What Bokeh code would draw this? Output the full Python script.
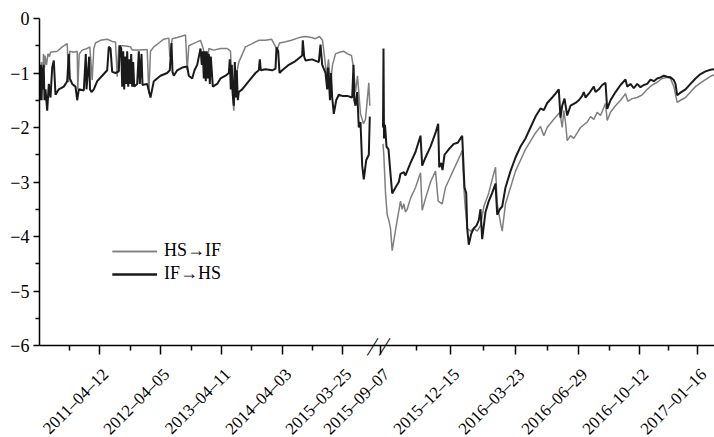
from bokeh.plotting import figure
from bokeh.models import Range1d, FixedTicker, Legend, LegendItem, Label
from bokeh.embed import file_html
from bokeh.resources import INLINE

# ---------------- data ----------------
# x = observation index along the (broken) time axis, y = value
# left segment: 2011 .. 2015-06 ; right segment: 2015-09 .. 2017-02
if_hs_left = [
    (0, -1.0), (0.7, -1.5), (1.4, -0.85), (2.1, -1.5), (2.8, -0.9), (3.5, -1.3), (4.2, -0.85),
    (5, -1.5), (6, -1.3), (7.7, -1.69), (9.3, -1.2), (11, -1.45), (12.7, -0.9), (14.3, -0.77),
    (16, -1.4), (19.3, -1.3), (24.3, -1.25), (27.7, -1.15), (29.3, -0.65), (30.3, -1.1),
    (32.7, -1.2), (36, -1.25), (37.7, -1.5), (39.3, -1.3), (44.3, -1.32), (46.3, -0.65),
    (47, -1.3), (49.7, -0.7), (50.5, -1.3), (52, -1.35), (54.3, -1.3), (57.7, -1.15),
    (62.7, -1.05), (67.7, -0.95), (69.3, -0.52), (71, -0.55), (72.7, -0.98), (76, -1.0),
    (79.3, -0.97), (80.3, -0.5), (81.7, -0.55), (82.7, -1.25), (83.7, -0.6), (84.7, -1.3),
    (85.7, -0.7), (86.7, -1.2), (87.7, -0.6), (88.7, -1.25), (89.7, -0.75), (90.7, -1.2),
    (91.7, -0.65), (92.7, -1.25), (93.7, -0.8), (94.7, -1.25), (97.7, -1.2), (99.3, -0.6),
    (100.3, -1.2), (102, -0.65), (103, -1.22), (107.7, -1.2), (111, -1.45), (114.3, -1.15),
    (121, -1.05), (127.7, -1.0), (130.3, -0.95), (132, -0.45), (133, -0.98), (134.3, -1.05),
    (137.7, -0.95), (142.7, -0.9), (147.7, -0.88), (149.3, -1.05), (152.7, -1.1),
    (155, -0.95), (157.7, -0.85), (161, -0.55), (162.3, -0.85), (163.3, -0.6), (164.3, -1.1),
    (165.3, -0.6), (166.3, -1.15), (167.3, -0.6), (168.3, -1.1), (169.3, -0.65),
    (170.3, -1.2), (171.3, -0.7), (173.3, -1.25), (177.7, -1.2), (181, -1.1), (186, -1.05),
    (189.3, -1.0), (190.3, -0.75), (191.3, -1.3), (192.3, -0.85), (193.3, -1.4),
    (194.3, -1.6), (195.3, -0.8), (196.3, -1.45), (197.3, -0.95), (198.3, -1.5),
    (199.3, -1.35), (202.7, -1.3), (209.3, -1.15), (216, -1.0), (219.3, -0.95),
    (220.3, -0.75), (221.3, -0.95), (226, -0.93), (232.7, -0.95), (236, -0.92), (237, -0.53),
    (238.7, -0.6), (240, -1.0), (242.7, -0.95), (249.3, -0.85), (256, -0.78), (262.7, -0.68),
    (263.3, -0.4), (264.7, -0.7), (266, -0.77), (272.7, -0.75), (279.3, -0.8), (281, -0.48),
    (282.7, -0.85), (286, -1.0), (287.7, -1.3), (288.5, -0.9), (289.3, -1.1), (290.5, -1.5),
    (291.5, -1.0), (292.7, -1.45), (294.3, -1.75), (296.7, -1.5), (299.3, -1.4),
    (302.7, -1.42), (307.7, -1.42), (312.7, -1.45), (314, -0.85), (314.8, -1.5), (316, -1.6),
    (317.7, -1.35), (319.3, -2.0), (321, -1.9), (322.7, -2.7), (324.3, -2.95), (326.7, -2.6),
    (329.3, -2.5), (330.3, -1.8),
]
hs_if_left = [
    (0, -1.0), (1, -1.4), (2, -0.8), (3, -1.3), (4, -0.65), (5, -0.9), (5.5, -0.68),
    (7, -0.85), (8.5, -0.65), (10, -0.7), (11, -0.62), (17.7, -0.6), (22.7, -0.52),
    (27.7, -0.46), (29.3, -1.17), (30.3, -0.6), (34.3, -0.62), (37.7, -0.6), (38.3, -1.3),
    (39.7, -0.65), (42.7, -0.58), (47.7, -0.55), (50.3, -0.52), (52.7, -1.13), (54.3, -0.55),
    (56, -0.45), (61, -0.4), (67.7, -0.38), (72.7, -0.42), (76, -0.43), (77.7, -1.07),
    (79.3, -0.5), (84.3, -0.5), (91, -0.52), (92.7, -0.58), (101, -0.58), (107.7, -0.57),
    (109.3, -1.38), (111, -0.6), (114.3, -0.52), (119.3, -0.45), (124.3, -0.38),
    (129.3, -0.36), (130.3, -0.7), (132.7, -0.37), (137.7, -0.35), (142.7, -0.32),
    (146, -0.3), (147.7, -0.95), (149.3, -0.5), (152.7, -0.47), (157.7, -0.43), (161, -0.4),
    (163.7, -0.55), (167.7, -1.0), (169.3, -0.55), (174.3, -0.58), (181, -0.55),
    (187.7, -0.55), (191, -0.6), (192.7, -1.3), (194.3, -1.69), (196, -1.1), (199.3, -0.8),
    (206, -0.52), (212.7, -0.46), (219.3, -0.4), (226, -0.4), (232, -0.38), (237.7, -0.57),
    (240, -0.45), (245, -0.43), (252, -0.4), (258, -0.36), (262, -0.34), (266, -0.33),
    (272, -0.35), (276, -0.37), (280, -0.33), (283, -0.4), (285, -0.7), (287, -1.05),
    (289, -0.75), (291, -1.2), (293, -0.85), (296, -0.65), (300, -0.62), (304, -0.6),
    (308, -0.65), (312, -0.68), (314, -0.9), (316, -1.35), (318, -1.05), (321, -1.75),
    (324, -1.93), (326, -1.85), (329.3, -1.18), (330.3, -1.6),
]
if_hs_right = [
    (343.5, -2.0), (344, -0.55), (344.5, -2.2), (345.5, -1.95), (347, -2.35), (349, -2.4),
    (351, -2.85), (352.7, -3.21), (356, -3.1), (359.3, -3.0), (361, -2.85), (364.3, -2.82),
    (366, -2.88), (367.7, -2.8), (371, -2.65), (376, -2.45), (381, -2.15), (382.7, -2.7),
    (386, -2.55), (391, -2.35), (396, -2.1), (398.7, -1.93), (399.7, -2.73), (401.7, -2.65),
    (403, -2.78), (405, -2.5), (409.3, -2.4), (414.3, -2.3), (418.3, -2.28), (421, -2.2),
    (422.7, -2.15), (425, -3.1), (426.7, -3.2), (427.7, -3.85), (429.3, -4.15),
    (431.7, -3.95), (434.3, -3.85), (437, -3.8), (439.3, -3.7), (441, -3.5), (442.7, -4.05),
    (446, -3.55), (449.3, -3.35), (452.7, -3.2), (456, -3.03), (457.7, -3.6), (460.3, -3.5),
    (462.7, -3.45), (466, -3.1), (471, -2.8), (476, -2.55), (481, -2.35), (486, -2.2),
    (491, -2.0), (496, -1.8), (501, -1.65), (504.3, -1.68), (507.7, -1.55), (512.7, -1.45),
    (516, -1.38), (519.3, -1.3), (521, -1.82), (522.7, -1.6), (525, -1.47), (527.7, -1.78),
    (531, -1.6), (536, -1.55), (539.3, -1.5), (542.7, -1.42), (544.3, -1.35), (546, -1.45),
    (549.3, -1.38), (554.3, -1.25), (556, -1.35), (559.3, -1.3), (562.7, -1.22),
    (566, -1.18), (567.7, -1.66), (571, -1.5), (576, -1.35), (581, -1.22), (586, -1.12),
    (587.7, -1.25), (591, -1.2), (594.3, -1.28), (597.7, -1.2), (601, -1.26), (604.3, -1.22),
    (607.7, -1.2), (611, -1.12), (614.3, -1.15), (617.7, -1.1), (621, -1.08), (624.3, -1.05),
    (627.7, -1.07), (631, -1.08), (634.3, -1.13), (636, -1.2), (637.7, -1.41), (641, -1.36),
    (646, -1.3), (651, -1.2), (656, -1.1), (661, -1.02), (666, -0.97), (671, -0.94),
    (675, -0.93),
]
hs_if_right = [
    (343.5, -2.3), (344.3, -2.5), (346, -3.2), (347.7, -3.6), (349.3, -3.7), (351, -3.85),
    (352.7, -4.26), (355, -4.0), (357.7, -3.7), (361, -3.35), (362.7, -3.5), (364.3, -3.4),
    (366, -3.55), (367.7, -3.5), (371, -3.3), (376, -3.1), (381, -2.83), (382.7, -3.52),
    (386, -3.3), (391, -3.0), (396, -2.8), (398.7, -3.35), (402.7, -3.4), (406, -3.1),
    (411, -2.9), (416, -2.7), (421, -2.5), (422.7, -2.42), (425, -3.3), (427.7, -3.85),
    (431, -3.9), (434.3, -3.85), (437.7, -3.9), (441, -3.8), (444.3, -3.45), (449.3, -3.2),
    (452.7, -2.95), (456, -2.73), (457.7, -3.4), (461, -3.75), (462.7, -3.9), (466, -3.4),
    (471, -3.1), (476, -2.8), (481, -2.6), (486, -2.4), (491, -2.25), (496, -2.1),
    (501, -1.98), (504.3, -2.15), (507.7, -2.0), (514.3, -1.85), (520.3, -1.72),
    (522.7, -2.0), (524.3, -1.69), (526, -1.9), (527.7, -2.24), (531, -2.15), (534.3, -2.2),
    (537.7, -2.1), (541, -2.0), (544.3, -1.95), (547.7, -1.9), (551, -1.8), (554.3, -1.85),
    (557.7, -1.72), (561, -1.78), (566, -1.56), (567.7, -1.87), (571, -1.72), (576, -1.6),
    (581, -1.5), (586, -1.38), (588.3, -1.52), (592.7, -1.47), (597.7, -1.45),
    (602.7, -1.4), (607.7, -1.3), (612.7, -1.22), (617.7, -1.17), (622.7, -1.1),
    (627.7, -1.08), (631, -1.1), (634.3, -1.25), (637.7, -1.54), (641, -1.5), (646, -1.45),
    (651, -1.35), (656, -1.25), (661, -1.18), (666, -1.12), (671, -1.06), (675, -1.03),
]

x_tick_pos = [60, 121, 182, 243, 303, 341, 411, 476, 539, 600, 658]
x_tick_labels = ["2011–04–12", "2012–04–05", "2013–04–11", "2014–04–03", "2015–03–25",
                 "2015–09–07", "2015–12–15", "2016–03–23", "2016–06–29", "2016–10–12",
                 "2017–01–16"]
x_minor_pos = [30, 91, 152, 212, 273, 377, 444, 508, 570, 629]
y_ticks = [0, -1, -2, -3, -4, -5, -6]
y_minor = [-0.5, -1.5, -2.5, -3.5, -4.5, -5.5]
break_pos = [331, 343]
series_labels = ["HS→IF", "IF→HS"]
Y_BOTTOM = -6          # where the x axis sits

FONT = "Liberation Serif"
FSIZE = "18px"
DATE_FSIZE = "17px"
GRAY = "#7f7f7f"
BLACK = "#1a1a1a"

# The frame runs to the bottom of the figure so that the rotated dates and the
# break marks below the x axis (which is drawn at y = -6) are not clipped.
W, H, TOP, LEFT, AXIS_PX = 714, 437, 18, 39, 345
y_low = Y_BOTTOM * (H - TOP) / (AXIS_PX - TOP)

p = figure(width=W, height=H, output_backend="svg", toolbar_location=None,
           x_range=Range1d(0, 675), y_range=Range1d(y_low, 0),
           min_border_left=LEFT, min_border_top=TOP, min_border_right=0, min_border_bottom=0)
p.xgrid.visible = False
p.ygrid.visible = False
p.outline_line_color = None

def xy(pairs):
    return [a for a, b in pairs], [b for a, b in pairs]

g1 = p.line(*xy(hs_if_left), line_color=GRAY, line_width=1.5)
g2 = p.line(*xy(hs_if_right), line_color=GRAY, line_width=1.5)
b1 = p.line(*xy(if_hs_left), line_color=BLACK, line_width=2)
b2 = p.line(*xy(if_hs_right), line_color=BLACK, line_width=2)

legend = Legend(items=[LegendItem(label=series_labels[0], renderers=[g1, g2]),
                       LegendItem(label=series_labels[1], renderers=[b1, b2])],
                location=(73, 61 + H - AXIS_PX), padding=0, margin=0, border_line_color=None,
                background_fill_alpha=0, glyph_width=45, label_standoff=7, spacing=2,
                label_text_font=FONT, label_text_font_size=FSIZE, label_text_color="black")
p.add_layout(legend)

xa = p.xaxis[0]
xa.fixed_location = Y_BOTTOM
xa.ticker = FixedTicker(ticks=x_tick_pos, minor_ticks=x_minor_pos)
xa.major_label_text_color = None   # the dates are drawn below as rotated labels
ya = p.yaxis[0]
ya.bounds = (Y_BOTTOM, 0)
ya.ticker = FixedTicker(ticks=y_ticks, minor_ticks=y_minor)
ya.major_label_overrides = {t: ("0" if t == 0 else "−%d" % abs(t)) for t in y_ticks}
ya.major_label_text_color = "black"

for ax in (xa, ya):
    ax.axis_line_color = "black"
    ax.axis_line_width = 1.5
    ax.major_tick_line_color = "black"
    ax.major_tick_line_width = 1.5
    ax.minor_tick_line_color = "black"
    ax.minor_tick_line_width = 1.5
    ax.major_tick_in = 0
    ax.minor_tick_in = 0
    ax.major_label_text_font = FONT
    ax.major_label_text_font_size = FSIZE
xa.major_tick_out = 9
xa.minor_tick_out = 5
ya.major_tick_out = 6
ya.minor_tick_out = 4
ya.major_label_standoff = 4

# rotated date labels at each major tick
for t, lab in zip(x_tick_pos, x_tick_labels):
    p.add_layout(Label(x=t, y=Y_BOTTOM, text=lab, angle=45, angle_units="deg",
                       x_offset=6, y_offset=-26, text_align="right", text_baseline="middle",
                       text_font=FONT, text_font_size=DATE_FSIZE, text_color="black"))

# axis break marks (an em dash rotated into a slash)
for bp in break_pos:
    p.add_layout(Label(x=bp, y=Y_BOTTOM, text="—", angle=58, angle_units="deg",
                       text_align="center", text_baseline="middle",
                       text_font=FONT, text_font_size="20px", text_color="black"))

open("out.html", "w").write(file_html(p, INLINE))
